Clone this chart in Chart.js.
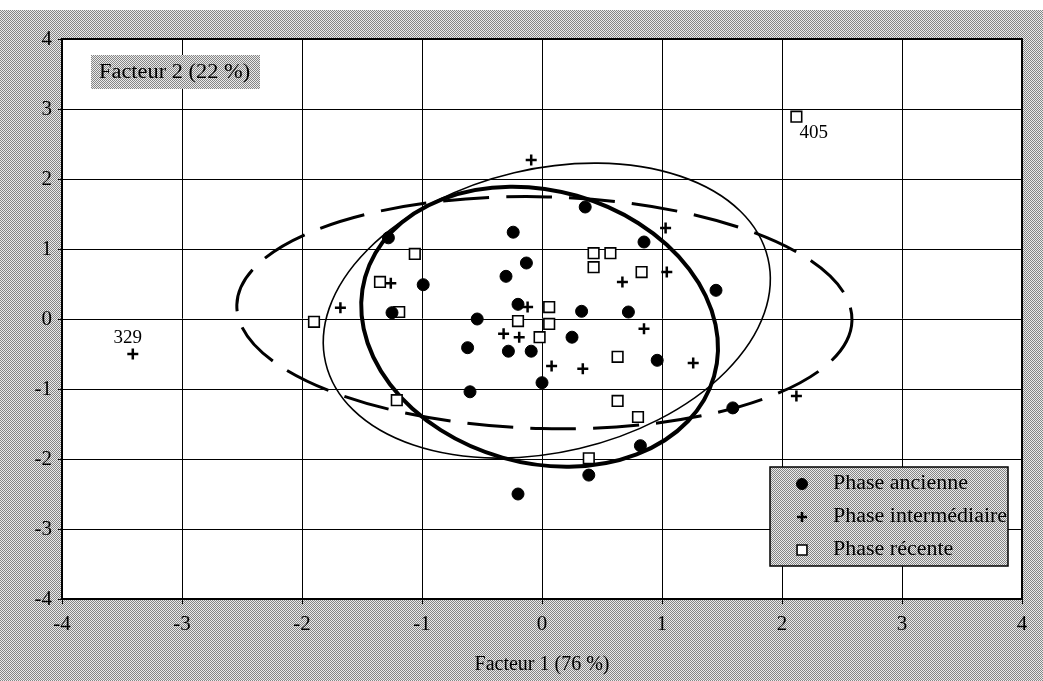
<!DOCTYPE html>
<html>
<head>
<meta charset="utf-8">
<script src="https://cdn.jsdelivr.net/npm/chart.js@4.4.1/dist/chart.umd.min.js"></script>
<style>
  html, body { margin: 0; padding: 0; background: #fff; }
  #wrap { position: absolute; left: 0; top: 0; width: 1043px; height: 681px; }
</style>
</head>
<body>
<div id="wrap"><canvas id="myChart" width="1043" height="681"></canvas></div>
<script>
'use strict';

// Phase ancienne (ronds pleins)
const ancienneX = [-1.28, 0.36, -0.24, 0.85, -0.13, -0.30, -0.99, -0.20, 0.33, 0.72, -1.25, -0.54,
  0.25, -0.62, -0.28, -0.09, 0.96, 0.00, -0.60, 1.45, 1.59, 0.82, 0.39, -0.20];
const ancienneY = [1.16, 1.60, 1.24, 1.10, 0.80, 0.61, 0.49, 0.21, 0.11, 0.10, 0.09, 0.00,
  -0.26, -0.41, -0.46, -0.46, -0.59, -0.91, -1.04, 0.41, -1.27, -1.81, -2.23, -2.50];

// Phase intermédiaire (croix)
const interX = [-3.41, -1.68, -0.09, 1.03, 1.04, 0.67, -1.26, -0.12, 0.85, -0.32, -0.19, 0.08, 0.34, 1.26, 2.12];
const interY = [-0.50, 0.16, 2.27, 1.30, 0.67, 0.53, 0.51, 0.17, -0.14, -0.21, -0.26, -0.67, -0.71, -0.63, -1.10];
const interLabels = ['329', '', '', '', '', '', '', '', '', '', '', '', '', '', ''];

// Phase récente (carrés vides)
const recenteX = [2.12, -1.90, -1.06, -1.35, -1.19, 0.43, 0.57, 0.43, 0.83, 0.06, -0.20, 0.06,
  -0.02, 0.63, -1.21, 0.63, 0.80, 0.39];
const recenteY = [2.89, -0.04, 0.93, 0.53, 0.10, 0.94, 0.94, 0.74, 0.67, 0.17, -0.03, -0.07,
  -0.26, -0.54, -1.16, -1.17, -1.40, -1.99];
const recenteLabels = ['405', '', '', '', '', '', '', '', '', '', '', '', '', '', '', '', '', ''];

const seriesNames = ['Phase ancienne', 'Phase intermédiaire', 'Phase récente'];

// ellipses : centre et covariance (unités des facteurs), ordre = seriesNames
const ellipseCx = [-0.02, 0.02, 0.04];
const ellipseCy = [-0.11, 0.09, 0.12];
const ellipseSxx = [2.21, 6.57, 3.47];
const ellipseSyy = [4.00, 2.75, 4.44];
const ellipseSxy = [-0.45, -0.25, 0.84];

const axisTicks = [-4, -3, -2, -1, 0, 1, 2, 3, 4];
const xTitle = 'Facteur 1 (76 %)';
const yTitle = 'Facteur 2 (22 %)';

const FONT = '"Liberation Serif", "Times New Roman", serif';

function zip(xs, ys) {
  return xs.map((x, i) => ({ x: x, y: ys[i] }));
}

// trame grise façon photocopie
const pc = document.createElement('canvas');
pc.width = 2; pc.height = 2;
const pctx = pc.getContext('2d');
pctx.fillStyle = '#ebebeb';
pctx.fillRect(0, 0, 2, 2);
pctx.fillStyle = '#858585';
pctx.fillRect(0, 0, 1, 1);
pctx.fillRect(1, 1, 1, 1);

const ctx = document.getElementById('myChart').getContext('2d');
const grayFill = ctx.createPattern(pc, 'repeat');

const ellipseStyles = [
  { width: 4, dash: [] },
  { width: 3, dash: [46, 17] },
  { width: 1.6, dash: [] },
];

const decorPlugin = {
  id: 'decor',
  beforeDraw(chart) {
    const c = chart.ctx;
    const a = chart.chartArea;
    c.save();
    c.fillStyle = grayFill;
    c.fillRect(0, 10, chart.width, chart.height - 10);
    c.fillStyle = '#fff';
    c.fillRect(a.left, a.top, a.right - a.left, a.bottom - a.top);
    c.restore();
  },
  beforeDatasetsDraw(chart) {
    const c = chart.ctx;
    const a = chart.chartArea;
    const xs = chart.scales.x, ys = chart.scales.y;
    const kx = xs.getPixelForValue(1) - xs.getPixelForValue(0);
    const ky = ys.getPixelForValue(1) - ys.getPixelForValue(0);
    c.save();
    c.beginPath();
    c.rect(a.left, a.top, a.right - a.left, a.bottom - a.top);
    c.clip();
    c.strokeStyle = '#000';
    ellipseCx.forEach((cx, i) => {
      const pxx = ellipseSxx[i] * kx * kx;
      const pyy = ellipseSyy[i] * ky * ky;
      const pxy = ellipseSxy[i] * kx * ky;
      const half = (pxx + pyy) / 2;
      const d = Math.sqrt((pxx - pyy) * (pxx - pyy) / 4 + pxy * pxy);
      const r1 = Math.sqrt(half + d), r2 = Math.sqrt(Math.max(half - d, 0));
      const th = 0.5 * Math.atan2(2 * pxy, pxx - pyy);
      c.lineWidth = ellipseStyles[i].width;
      c.setLineDash(ellipseStyles[i].dash);
      c.beginPath();
      c.ellipse(xs.getPixelForValue(cx), ys.getPixelForValue(ellipseCy[i]), r1, r2, th, 0, Math.PI * 2);
      c.stroke();
    });
    c.restore();
  },
  afterDraw(chart) {
    const c = chart.ctx;
    const a = chart.chartArea;
    c.save();
    // cadre
    c.strokeStyle = '#000';
    c.lineWidth = 2;
    c.strokeRect(a.left, a.top, a.right - a.left, a.bottom - a.top);

    // étiquettes 329 / 405
    c.font = '19px ' + FONT;
    c.fillStyle = '#000';
    c.textBaseline = 'middle';
    chart.data.datasets.forEach((ds, di) => {
      if (!ds.pointLabels) return;
      const meta = chart.getDatasetMeta(di);
      ds.pointLabels.forEach((txt, i) => {
        if (!txt) return;
        const el = meta.data[i];
        if (el.x < a.left + 150) {
          c.textAlign = 'center';
          c.fillText(txt, el.x - 5, el.y - 16);
        } else {
          c.textAlign = 'left';
          c.fillText(txt, el.x + 3, el.y + 16);
        }
      });
    });

    // titre du facteur 2 dans le graphe
    c.fillStyle = grayFill;
    c.fillRect(91, 55, 169, 34);
    c.fillStyle = '#000';
    c.textAlign = 'left';
    c.font = '20px ' + FONT;
    c.save();
    c.translate(99, 73);
    c.scale(1.12, 1);
    c.fillText(yTitle, 0, 0);
    c.restore();

    // légende
    const lx = 770, ly = 467, lw = 238, lh = 99;
    c.fillStyle = grayFill;
    c.fillRect(lx, ly, lw, lh);
    c.strokeStyle = '#000';
    c.lineWidth = 1.5;
    c.strokeRect(lx, ly, lw, lh);
    chart.data.datasets.forEach((ds, i) => {
      const yy = ly + 17 + i * 33;
      c.fillStyle = ds.backgroundColor;
      c.strokeStyle = ds.borderColor;
      c.lineWidth = ds.borderWidth;
      Chart.helpers.drawPoint(c, {
        pointStyle: ds.pointStyle,
        radius: ds.pointRadius - 0.5,
        borderWidth: ds.borderWidth,
        rotation: 0,
      }, 802, yy);
      c.fillStyle = '#000';
      c.save();
      c.translate(833, yy);
      c.scale(1.1, 1);
      c.fillText(ds.label, 0, 0);
      c.restore();
    });
    c.restore();
  },
};

const data = {
  datasets: [
    {
      label: seriesNames[0],
      data: zip(ancienneX, ancienneY),
      pointStyle: 'circle',
      pointRadius: 6,
      backgroundColor: '#000',
      borderColor: '#000',
      borderWidth: 1,
    },
    {
      label: seriesNames[1],
      data: zip(interX, interY),
      pointLabels: interLabels,
      pointStyle: 'cross',
      pointRadius: 5.5,
      backgroundColor: '#000',
      borderColor: '#000',
      borderWidth: 2.5,
    },
    {
      label: seriesNames[2],
      data: zip(recenteX, recenteY),
      pointLabels: recenteLabels,
      pointStyle: 'rect',
      pointRadius: 7.5,
      backgroundColor: '#fff',
      borderColor: '#000',
      borderWidth: 1.6,
    },
  ],
};

const tickFont = { family: FONT, size: 21 };

const options = {
  responsive: false,
  animation: false,
  events: [],
  layout: { padding: { left: 0, top: 39, right: 21, bottom: 0 } },
  scales: {
    x: {
      type: 'linear',
      min: axisTicks[0],
      max: axisTicks[axisTicks.length - 1],
      afterBuildTicks: (s) => { s.ticks = axisTicks.map(v => ({ value: v })); },
      afterFit: (s) => { s.height = 82; },
      grid: { color: '#000', lineWidth: 1, tickLength: 5, drawTicks: true },
      border: { display: true, color: '#000', width: 2 },
      ticks: { color: '#000', font: tickFont, padding: 8, maxRotation: 0 },
      title: { display: true, text: xTitle, color: '#000', font: { family: FONT, size: 20 }, padding: { top: 0, bottom: 4 } },
    },
    y: {
      type: 'linear',
      min: axisTicks[0],
      max: axisTicks[axisTicks.length - 1],
      afterBuildTicks: (s) => { s.ticks = axisTicks.map(v => ({ value: v })); },
      afterFit: (s) => { s.width = 62; },
      grid: { color: '#000', lineWidth: 1, tickLength: 4, drawTicks: true },
      border: { display: true, color: '#000', width: 2 },
      ticks: { color: '#000', font: tickFont, padding: 6 },
    },
  },
  plugins: {
    legend: { display: false },
    tooltip: { enabled: false },
  },
};

new Chart(ctx, {
  type: 'scatter',
  data: data,
  options: options,
  plugins: [decorPlugin],
});
</script>
</body>
</html>
